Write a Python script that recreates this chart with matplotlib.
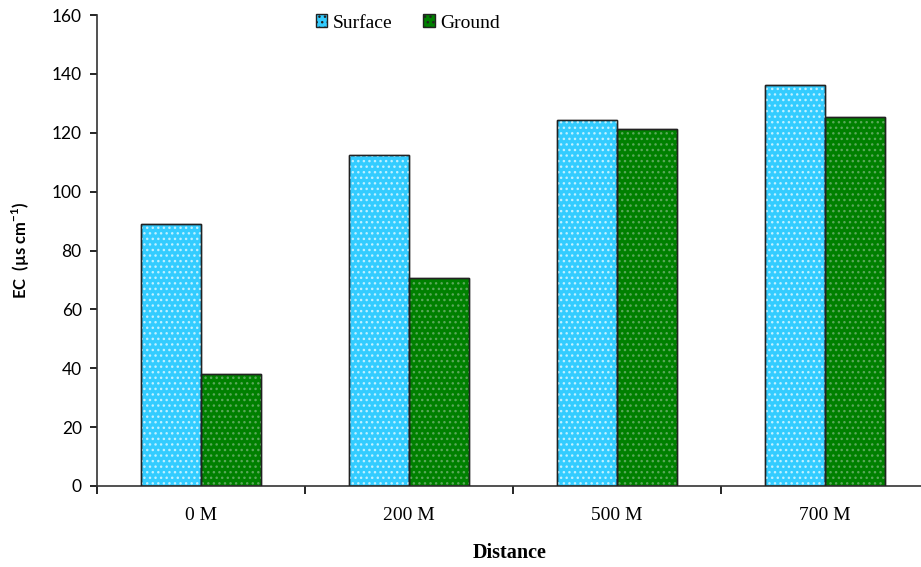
import matplotlib.pyplot as plt
import numpy as np
from matplotlib.patches import Patch

distances = ['0 M', '200 M', '500 M', '700 M']
surface = [89, 112.3, 124.5, 136.3]
ground = [38, 70.5, 121.2, 125.5]

serif = 'Liberation Serif'
sans = 'Lato'
cyan = '#33CCFF'
green = '#008000'

fig = plt.figure(figsize=(9.21, 5.67), dpi=100)
ax = fig.add_axes([97/921, 81/567, 832/921, 471/567])

x = np.arange(len(distances))
w = 0.288

def draw_bars(xpos, vals, color, dotcolor):
    ax.bar(xpos, vals, w, color=color, edgecolor='#222222', linewidth=1.0, zorder=2)
    # dotted pattern on top, hatch takes the edge colour
    ax.bar(xpos, vals, w, color='none', edgecolor=dotcolor, linewidth=0, hatch='...', zorder=3)
    ax.bar(xpos, vals, w, color='none', edgecolor='#222222', linewidth=1.0, zorder=4)

draw_bars(x - w/2, surface, cyan, '#bff0ff')
draw_bars(x + w/2, ground, green, '#5aa85a')

ax.set_xlim(-0.5, 3.5)
ax.set_ylim(0, 160)
ax.set_yticks(np.arange(0, 161, 20))
ax.set_xticks(np.arange(-0.5, 3.5, 1.0))
ax.set_xticklabels([])
ax.set_xticks(x, minor=True)
ax.set_xticklabels(distances, minor=True, fontfamily=serif, fontsize=14)
ax.tick_params(axis='x', which='minor', length=0, pad=15)
ax.tick_params(axis='x', which='major', length=6, width=1.2, direction='out')
ax.tick_params(axis='y', length=5, width=1.2, direction='out', pad=6)
for lbl in ax.get_yticklabels():
    lbl.set_fontfamily(sans)
    lbl.set_fontsize(12.5)

for s in ['top', 'right']:
    ax.spines[s].set_visible(False)
for s in ['left', 'bottom']:
    ax.spines[s].set_linewidth(1.2)
    ax.spines[s].set_color('#333333')

ax.set_ylabel('EC  (\u00b5s cm$^{\\mathregular{-1}}$)', fontfamily=sans, fontweight='bold',
              fontsize=12, labelpad=14)
fig.text(510/921, 1 - 553/567, 'Distance', ha='center', va='center',
         fontfamily=serif, fontweight='bold', fontsize=14.5)

handles = [Patch(facecolor=cyan, edgecolor='#222222', hatch='...', label='Surface'),
           Patch(facecolor=green, edgecolor='#222222', hatch='...', label='Ground')]
fig.legend(handles=handles, loc='center', bbox_to_anchor=(408/921, 1 - 23/567), ncol=2,
           frameon=False, prop={'family': serif, 'size': 14}, handlelength=0.6,
           handleheight=0.6, handletextpad=0.3, columnspacing=1.55)

fig.savefig('out.png', dpi=100)
